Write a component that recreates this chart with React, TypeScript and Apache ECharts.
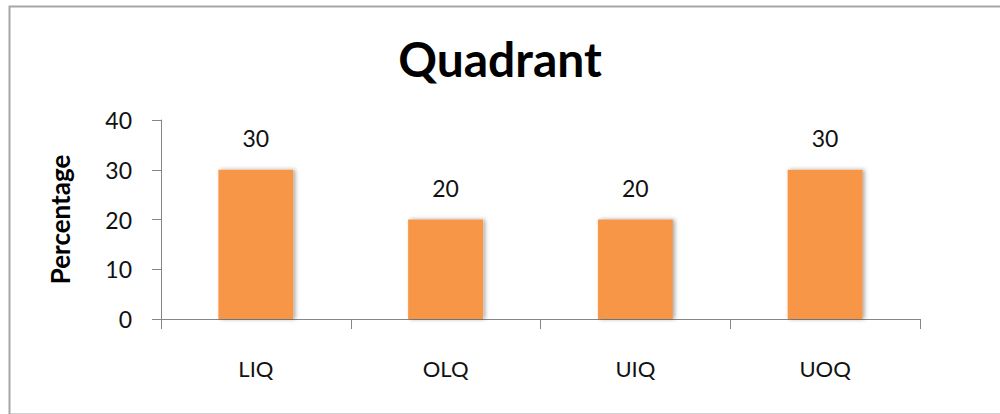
import React, { useEffect, useRef } from "react";
import * as echarts from "echarts";

const categories = ["LIQ", "OLQ", "UIQ", "UOQ"];
const percentages = [30, 20, 20, 30];
const yMin = 0;
const yMax = 40;
const yInterval = 10;
const chartTitle = "Quadrant";
const yAxisTitle = "Percentage";

const FONT = "Lato, 'Open Sans', sans-serif";

export default function App() {
  const ref = useRef<HTMLDivElement>(null);
  useEffect(() => {
    if (!ref.current) return;
    const chart = echarts.init(ref.current, null, { renderer: "svg" });
    chart.setOption({
      animation: false,
      backgroundColor: "#ffffff",
      title: {
        text: chartTitle,
        left: "center",
        top: 29,
        textStyle: { fontFamily: FONT, fontWeight: "bold", fontSize: 48, color: "#000000" },
      },
      graphic: [
        {
          type: "rect",
          left: 7,
          top: 4,
          shape: { width: 1000, height: 408 },
          style: { fill: "none", stroke: "#a6a6a6", lineWidth: 2 },
          silent: true,
          z: -10,
        },
      ],
      grid: { left: 161, right: 80, top: 120, bottom: 95, containLabel: false },
      xAxis: {
        type: "category",
        data: categories,
        boundaryGap: true,
        axisLine: { lineStyle: { color: "#868686", width: 1 } },
        axisTick: { show: true, length: 10, alignWithLabel: false, lineStyle: { color: "#868686" } },
        axisLabel: { fontFamily: FONT, fontSize: 22, color: "#111111", margin: 38 },
      },
      yAxis: {
        type: "value",
        min: yMin,
        max: yMax,
        interval: yInterval,
        name: yAxisTitle,
        nameLocation: "middle",
        nameRotate: 90,
        nameGap: 88,
        nameTextStyle: { fontFamily: FONT, fontWeight: "bold", fontSize: 26, color: "#000000" },
        splitLine: { show: false },
        axisLine: { show: true, lineStyle: { color: "#868686", width: 1 } },
        axisTick: { show: true, length: 9, lineStyle: { color: "#868686" } },
        axisLabel: { fontFamily: FONT, fontSize: 23, color: "#111111", margin: 29 },
      },
      series: [
        {
          type: "bar",
          data: percentages,
          barWidth: "39.5%",
          itemStyle: {
            color: "#F79646",
            shadowColor: "rgba(0,0,0,0.35)",
            shadowBlur: 4,
            shadowOffsetX: 2,
            shadowOffsetY: 0,
          },
          label: {
            show: true,
            position: "top",
            distance: 20,
            fontFamily: FONT,
            fontSize: 23,
            color: "#111111",
          },
        },
      ],
    });
    return () => chart.dispose();
  }, []);
  return (
    <div
      ref={ref}
      style={{ position: "absolute", left: 0, top: 0, width: 1000, height: 414 }}
    />
  );
}
